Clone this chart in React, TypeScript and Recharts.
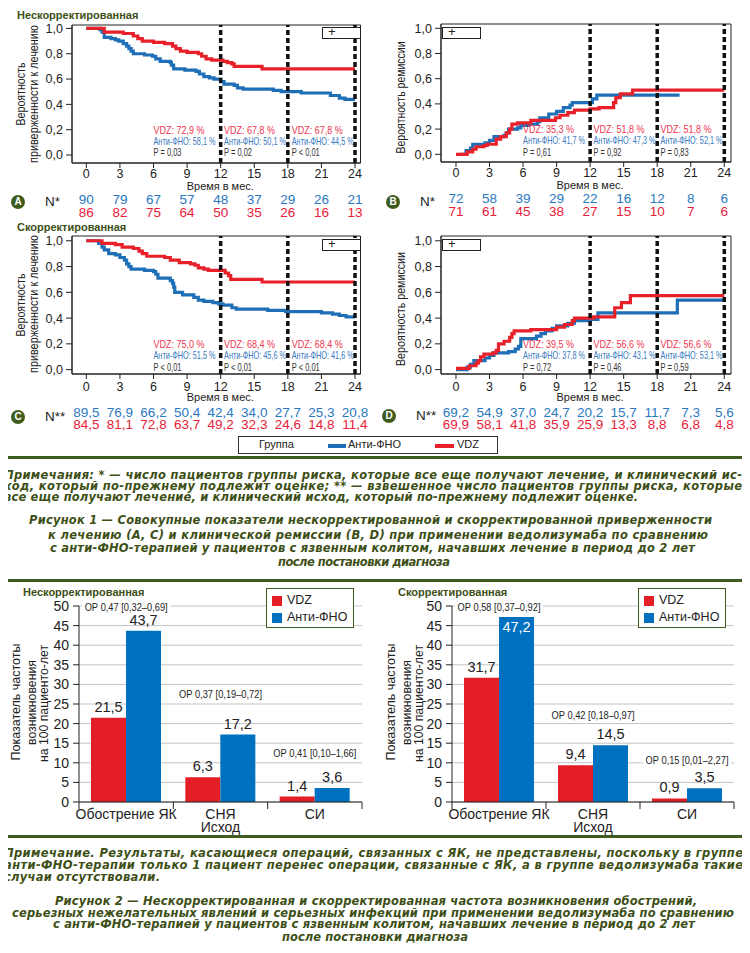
import React from 'react';
import {
  LineChart, Line, XAxis, YAxis, ReferenceLine, ReferenceDot, ReferenceArea,
  BarChart, Bar, CartesianGrid, LabelList,
} from 'recharts';

type Pt = [number, number];

// ---------- Figure 1: Kaplan–Meier curves ----------
const MONTHS = [0, 3, 6, 9, 12, 15, 18, 21, 24];
const PROB_TICKS = [0, 0.2, 0.4, 0.6, 0.8, 1];
const CUTS = [12, 18, 24];

// A: adherence, unadjusted
const A_ANTI: Pt[] = [
  [0, 1], [1.2, 0.99], [1.4, 0.97], [1.6, 0.93], [2.2, 0.92], [2.6, 0.91], [2.9, 0.9], [3.3, 0.88],
  [3.6, 0.86], [3.8, 0.84], [4.0, 0.82], [4.2, 0.8], [5.2, 0.79], [5.9, 0.78], [6.2, 0.76], [6.6, 0.74],
  [7.5, 0.73], [7.6, 0.71], [7.8, 0.68], [8.8, 0.67], [9.8, 0.66], [10.1, 0.64], [10.5, 0.62], [11.0, 0.61],
  [11.4, 0.6], [12.0, 0.58], [12.3, 0.56], [13.2, 0.55], [13.5, 0.53], [14.0, 0.52], [16.7, 0.51],
  [17.4, 0.5], [19.2, 0.49], [21.8, 0.47], [22.6, 0.45], [23.1, 0.44], [24, 0.44],
];
const A_VDZ: Pt[] = [
  [0, 1], [1.6, 0.97], [3.3, 0.96], [4.2, 0.94], [4.6, 0.92], [5.0, 0.9], [6.0, 0.89], [7.0, 0.88],
  [7.7, 0.86], [8.0, 0.84], [8.4, 0.82], [9.0, 0.81], [10.0, 0.8], [10.3, 0.78], [10.7, 0.76], [11.2, 0.75],
  [12.2, 0.74], [12.6, 0.73], [13.0, 0.72], [13.2, 0.7], [15.7, 0.68], [24, 0.68],
];
const A_N_ANTI = ['90', '79', '67', '57', '48', '37', '29', '26', '21'];
const A_N_VDZ = ['86', '82', '75', '64', '50', '35', '26', '16', '13'];
const A_PCT_VDZ = [72.9, 67.8, 67.8];
const A_PCT_ANTI = [58.1, 50.1, 44.5];
const A_P = ['P = 0,03', 'P = 0,02', 'P < 0,01'];

// B: remission, unadjusted
const B_ANTI: Pt[] = [
  [0.3, 0], [0.9, 0.03], [1.3, 0.05], [1.5, 0.08], [2.6, 0.09], [3.0, 0.11], [3.4, 0.14], [4.3, 0.15],
  [4.5, 0.17], [4.7, 0.2], [5.5, 0.21], [5.8, 0.23], [6.5, 0.24], [7.3, 0.26], [7.5, 0.29], [8.3, 0.32],
  [9.0, 0.34], [9.6, 0.37], [10.2, 0.39], [10.4, 0.41], [12.2, 0.44], [12.6, 0.47], [20.0, 0.47],
];
const B_VDZ: Pt[] = [
  [0, 0], [1.0, 0.02], [1.5, 0.04], [1.8, 0.06], [2.5, 0.07], [2.8, 0.08], [3.6, 0.12], [4.0, 0.14],
  [4.5, 0.17], [4.8, 0.2], [5.0, 0.24], [5.5, 0.25], [6.7, 0.27], [8.9, 0.29], [9.3, 0.31], [10.0, 0.33],
  [10.6, 0.35], [12.0, 0.36], [12.8, 0.37], [14.1, 0.41], [14.3, 0.45], [14.7, 0.48], [15.8, 0.51], [24, 0.51],
];
const B_N_ANTI = ['72', '58', '39', '29', '22', '16', '12', '8', '6'];
const B_N_VDZ = ['71', '61', '45', '38', '27', '15', '10', '7', '6'];
const B_PCT_VDZ = [35.3, 51.8, 51.8];
const B_PCT_ANTI = [41.7, 47.3, 52.1];
const B_P = ['P = 0,61', 'P = 0,92', 'P = 0,83'];

// C: adherence, adjusted
const C_ANTI: Pt[] = [
  [0, 1], [1.1, 0.98], [1.4, 0.95], [1.6, 0.93], [2.0, 0.9], [2.6, 0.89], [3.0, 0.87], [3.4, 0.85],
  [3.6, 0.82], [3.8, 0.8], [4.0, 0.78], [5.2, 0.77], [6.0, 0.76], [6.2, 0.74], [6.4, 0.71], [7.5, 0.69],
  [7.7, 0.67], [7.8, 0.64], [7.9, 0.6], [8.6, 0.58], [9.6, 0.56], [10.0, 0.54], [10.5, 0.53], [11.3, 0.52],
  [11.8, 0.51], [12.2, 0.5], [13.0, 0.48], [13.4, 0.47], [16.2, 0.46], [17.8, 0.45], [21.0, 0.44],
  [22.0, 0.43], [22.6, 0.42], [23.2, 0.41], [24, 0.41],
];
const C_VDZ: Pt[] = [
  [0, 1], [1.4, 0.98], [2.6, 0.97], [3.2, 0.95], [4.2, 0.94], [4.7, 0.92], [5.0, 0.9], [5.4, 0.88],
  [7.0, 0.87], [7.5, 0.85], [8.3, 0.83], [9.3, 0.82], [9.7, 0.81], [10.0, 0.79], [10.5, 0.78], [10.9, 0.77],
  [12.4, 0.75], [12.7, 0.73], [12.9, 0.7], [15.7, 0.68], [24, 0.68],
];
const C_N_ANTI = ['89,5', '76,9', '66,2', '50,4', '42,4', '34,0', '27,7', '25,3', '20,8'];
const C_N_VDZ = ['84,5', '81,1', '72,8', '63,7', '49,2', '32,3', '24,6', '14,8', '11,4'];
const C_PCT_VDZ = [75.0, 68.4, 68.4];
const C_PCT_ANTI = [51.5, 45.6, 41.6];
const C_P = ['P < 0,01', 'P < 0,01', 'P < 0,01'];

// D: remission, adjusted
const D_ANTI: Pt[] = [
  [0, 0], [1.0, 0.02], [1.3, 0.04], [1.6, 0.07], [2.6, 0.09], [3.0, 0.11], [3.4, 0.13], [4.7, 0.14],
  [5.3, 0.16], [5.6, 0.18], [5.8, 0.24], [7.2, 0.26], [7.6, 0.28], [8.0, 0.3], [8.6, 0.32], [9.0, 0.34],
  [10.0, 0.36], [10.6, 0.38], [12.0, 0.39], [12.7, 0.44], [19.8, 0.54], [24, 0.54],
];
const D_VDZ: Pt[] = [
  [0, 0.01], [1.2, 0.03], [1.8, 0.05], [2.0, 0.07], [2.2, 0.1], [2.5, 0.12], [3.3, 0.13], [3.6, 0.15],
  [3.8, 0.2], [4.3, 0.22], [4.8, 0.25], [5.0, 0.28], [5.2, 0.3], [6.7, 0.31], [9.0, 0.33], [9.7, 0.35],
  [10.4, 0.38], [10.6, 0.4], [12.3, 0.41], [14.2, 0.48], [14.8, 0.52], [15.6, 0.575], [24, 0.575],
];
const D_N_ANTI = ['69,2', '54,9', '37,0', '24,7', '20,2', '15,7', '11,7', '7,3', '5,6'];
const D_N_VDZ = ['69,9', '58,1', '41,8', '35,9', '25,9', '13,3', '8,8', '6,8', '4,8'];
const D_PCT_VDZ = [39.5, 56.6, 56.6];
const D_PCT_ANTI = [37.8, 43.1, 53.1];
const D_P = ['P = 0,72', 'P = 0,46', 'P = 0,59'];

// ---------- Figure 2: incidence rates ----------
const CATS = ['Обострение ЯК', 'СНЯ', 'СИ'];
const RATE_TICKS = [0, 5, 10, 15, 20, 25, 30, 35, 40, 45, 50];
const UNADJ_VDZ = [21.5, 6.3, 1.4];
const UNADJ_ANTI = [43.7, 17.2, 3.6];
const UNADJ_OR = ['ОР 0,47 [0,32–0,69]', 'ОР 0,37 [0,19–0,72]', 'ОР 0,41 [0,10–1,66]'];
const ADJ_VDZ = [31.7, 9.4, 0.9];
const ADJ_ANTI = [47.2, 14.5, 3.5];
const ADJ_OR = ['ОР 0,58 [0,37–0,92]', 'ОР 0,42 [0,18–0,97]', 'ОР 0,15 [0,01–2,27]'];

// ---------- styling ----------
const SANS = '"Liberation Sans", Arial, sans-serif';
const NOTE = '"DejaVu Sans", sans-serif';
const FRAME = '#3e5c1e';
const OLIVE = '#3d4f16';
const RED = '#e8202a';
const BLUE = '#1f6fb8';
const BAR_RED = '#e31e26';
const BAR_BLUE = '#0070c0';
const INK = '#222';

const comma = (v: number, d = 1) => v.toFixed(d).replace('.', ',');

function Txt({ x, cy, fs, children, style }: any) {
  return (
    <div style={{ position: 'absolute', left: x, top: cy - 0.59 * fs, fontSize: fs, lineHeight: 1.2, whiteSpace: 'nowrap', ...style }}>
      {children}
    </div>
  );
}

// rotated axis title: column centre x, vertical centre cy, exact length len
function RotText({ x, cy, len, text, fs = 13 }: { x: number; cy: number; len: number; text: string; fs?: number }) {
  return (
    <text x={x} y={cy} dy={fs * 0.36} transform={`rotate(-90 ${x} ${cy})`} textAnchor="middle" fontSize={fs}
      fontFamily={SANS} fill={INK} textLength={len} lengthAdjust="spacingAndGlyphs">{text}</text>
  );
}

const annoLabel = (text: string, color: string, len: number) => (props: any) => {
  const vb = props.viewBox || {};
  const x = (vb.x ?? 0) + (vb.width ?? 0) / 2;
  const y = (vb.y ?? 0) + (vb.height ?? 0) / 2;
  return (
    <text x={x} y={y} dy={4} fill={color} fontSize={11.5} fontFamily={SANS}
      textLength={len} lengthAdjust="spacingAndGlyphs">{text}</text>
  );
};

const kmTick = (blue: string[], red: string[], dys: number[]) => (p: any) => {
  const i = MONTHS.indexOf(p.payload.value);
  return (
    <g>
      <text x={p.x} y={p.y + dys[0]} textAnchor="middle" fontSize={12.5} fill={INK} fontFamily={SANS}>{p.payload.value}</text>
      <text x={p.x} y={p.y + dys[1]} textAnchor="middle" fontSize={13.5} fill="#2a78c2" fontFamily={SANS}>{blue[i]}</text>
      <text x={p.x} y={p.y + dys[2]} textAnchor="middle" fontSize={13.5} fill="#e9203a" fontFamily={SANS}>{red[i]}</text>
    </g>
  );
};

const timeLabel = (props: any) => {
  const vb = props.viewBox || {};
  const cx = (vb.x ?? 0) + (vb.width ?? 0) / 2 + 4;
  const base = (vb.y ?? 0) + (vb.height ?? 0) - 3.5;
  return (
    <text x={cx} y={base} textAnchor="middle" fontSize={11.5} fill={INK} fontFamily={SANS}
      textLength={67} lengthAdjust="spacingAndGlyphs">Время в мес.</text>
  );
};

interface KmProps {
  left: number; top: number; mTop: number; mRight: number; yW: number;
  xDomain: [number, number]; yDomain: [number, number];
  anti: Pt[]; vdz: Pt[]; nAnti: string[]; nVdz: string[];
  annoX: number[]; pctVdz: number[]; pctAnti: number[]; pText: string[];
  dys: number[];
}

function KmPanel(p: KmProps) {
  const rows = (pts: Pt[]) => pts.map(([t, s]) => ({ t, s }));
  const H = 222;
  return (
    <div style={{ position: 'absolute', left: p.left, top: p.top }}>
      <LineChart width={375} height={H} margin={{ top: p.mTop, right: p.mRight, left: 0, bottom: H - 163 - 30 - p.mTop + 25 }}>
        <XAxis dataKey="t" type="number" domain={p.xDomain} ticks={MONTHS} interval={0} allowDataOverflow
          height={30} tickSize={5} tickMargin={2} stroke={INK} tick={kmTick(p.nAnti, p.nVdz, p.dys)}
          label={timeLabel} />
        <YAxis type="number" domain={p.yDomain} ticks={PROB_TICKS} allowDataOverflow width={p.yW}
          tickSize={6} tickMargin={3} stroke={INK} tick={{ fontSize: 12.5, fill: INK, fontFamily: SANS }}
          tickFormatter={(v: number) => comma(v)} />
        <ReferenceArea x1={p.xDomain[0]} x2={p.xDomain[1]} y1={p.yDomain[0]} y2={p.yDomain[1]}
          fill="none" stroke={INK} strokeWidth={1} ifOverflow="visible" />
        <Line data={rows(p.anti)} dataKey="s" type="stepAfter" stroke={BLUE} strokeWidth={3.2} dot={false} isAnimationActive={false} />
        <Line data={rows(p.vdz)} dataKey="s" type="stepAfter" stroke={RED} strokeWidth={3.2} dot={false} isAnimationActive={false} />
        {CUTS.map((c) => (
          <ReferenceLine key={c} x={c} stroke="#111" strokeWidth={3.5} strokeDasharray="5 3" />
        ))}
        {p.annoX.map((x, i) => (
          <React.Fragment key={x}>
            <ReferenceDot x={x} y={0.2} r={0.01} fill="none" stroke="none"
              label={annoLabel(`VDZ: ${comma(p.pctVdz[i])} %`, '#ef3550', 51)} />
            <ReferenceDot x={x} y={0.11} r={0.01} fill="none" stroke="none"
              label={annoLabel(`Анти-ФНО: ${comma(p.pctAnti[i])} %`, '#3a78c0', 62)} />
            <ReferenceDot x={x} y={0.02} r={0.01} fill="none" stroke="none"
              label={annoLabel(p.pText[i], '#333', 28)} />
          </React.Fragment>
        ))}
      </LineChart>
    </div>
  );
}

function PlusBox({ x, y }: { x: number; y: number }) {
  return (
    <div style={{ position: 'absolute', left: x, top: y, width: 37, height: 10, border: '1px solid #222', background: '#fff' }}>
      <div style={{ position: 'absolute', left: 5, top: -4, fontSize: 13, fontFamily: SANS, color: INK }}>+</div>
    </div>
  );
}

function Badge({ x, cy, letter, n }: { x: number; cy: number; letter: string; n: string }) {
  return (
    <>
      <div style={{
        position: 'absolute', left: x - 7, top: cy - 7, width: 14, height: 14, borderRadius: 7, background: FRAME,
        color: '#fff', fontSize: 10, fontWeight: 'bold', fontFamily: SANS, textAlign: 'center', lineHeight: '14px',
      }}>{letter}</div>
      <Txt x={x + 27} cy={cy} fs={13.5} style={{ fontFamily: SANS, color: INK }}>{n}</Txt>
    </>
  );
}

// ---------- bar charts ----------
const barTick = (band: number, n: number) => (p: any) => {
  const top = p.y - 7;
  const lx = p.x - band / 2;
  const rx = p.x + band / 2;
  return (
    <g>
      <line x1={lx} x2={lx} y1={top} y2={top + 7} stroke={INK} />
      {p.index === n - 1 && <line x1={rx} x2={rx} y1={top} y2={top + 7} stroke={INK} />}
      <text x={p.x} y={p.y + 10} textAnchor="middle" fontSize={14} fill={INK} fontFamily={SANS}>{p.payload.value}</text>
    </g>
  );
};

const valueLabel = (inside: number[]) => (p: any) => {
  const vb = p.viewBox && p.viewBox.width !== undefined ? p.viewBox : p;
  const isIn = inside.includes(p.index);
  const cx = vb.x + vb.width / 2;
  return (
    <text x={cx} y={isIn ? vb.y + 15 : vb.y - 6} textAnchor="middle" fontSize={14.5}
      fill={isIn ? '#fff' : INK} fontFamily={SANS}>{comma(Number(p.value))}</text>
  );
};

const orLabel = (text: string) => (props: any) => {
  const vb = props.viewBox || {};
  const cx = (vb.x ?? 0) + (vb.width ?? 0) / 2;
  const cy = (vb.y ?? 0) + (vb.height ?? 0) / 2;
  return (
    <g>
      <rect x={cx - 44} y={cy - 6} width={88} height={12} fill="#fff" />
      <text x={cx} y={cy} dy={3.6} textAnchor="middle" fontSize={10} fill={INK} fontFamily={SANS}
        textLength={83} lengthAdjust="spacingAndGlyphs">{text}</text>
    </g>
  );
};

function BarPanel({ left, vdz, anti, orText, orY, yW, mRight, inside }: any) {
  const rows = CATS.map((c, i) => ({ c, vdz: vdz[i], anti: anti[i] }));
  const band = (375 - yW - mRight) / CATS.length;
  return (
    <div style={{ position: 'absolute', left, top: 590 }}>
      <BarChart width={375} height={245} data={rows} margin={{ top: 16, right: mRight, left: 0, bottom: 3 }}
        barGap={0} barSize={35}>
        <CartesianGrid vertical={false} stroke="#c3c3c3" />
        <XAxis dataKey="c" tickLine={false} tickSize={7} tickMargin={0} height={30} stroke={INK}
          interval={0} tick={barTick(band, CATS.length)}
          label={{ value: 'Исход', position: 'insideBottom', offset: 0, fontSize: 14, fill: INK, fontFamily: SANS }} />
        <YAxis domain={[0, 50]} ticks={RATE_TICKS} interval={0} width={yW} tickSize={6} tickMargin={4}
          stroke={INK} tick={{ fontSize: 14, fill: INK, fontFamily: SANS }} allowDataOverflow />
        <Bar dataKey="vdz" fill={BAR_RED} isAnimationActive={false}>
          <LabelList dataKey="vdz" content={valueLabel([])} />
        </Bar>
        <Bar dataKey="anti" fill={BAR_BLUE} isAnimationActive={false}>
          <LabelList dataKey="anti" content={valueLabel(inside)} />
        </Bar>
        {CATS.map((c, i) => (
          <ReferenceDot key={c} x={c} y={orY[i]} r={0.01} fill="none" stroke="none" label={orLabel(orText[i])} />
        ))}
      </BarChart>
    </div>
  );
}

function BarLegend({ x }: { x: number }) {
  return (
    <div style={{ position: 'absolute', left: x, top: 588, width: 86, height: 38, border: `1.5px solid ${FRAME}`, background: '#fff' }}>
      <div style={{ position: 'absolute', left: 5, top: 7, width: 10, height: 10, background: BAR_RED }} />
      <div style={{ position: 'absolute', left: 20, top: 4, fontSize: 12.5, fontFamily: SANS, color: INK }}>VDZ</div>
      <div style={{ position: 'absolute', left: 5, top: 24, width: 10, height: 10, background: BAR_BLUE }} />
      <div style={{ position: 'absolute', left: 20, top: 21, fontSize: 12.5, fontFamily: SANS, color: INK }}>Анти-ФНО</div>
    </div>
  );
}

// ---------- notes and captions ----------
const NOTE1 = [
  'Примечания: * — число пациентов группы риска, которые все еще получают лечение, и клинический ис-',
  'ход, который по-прежнему подлежит оценке; ** — взвешенное число пациентов группы риска, которые',
  'все еще получают лечение, и клинический исход, который по-прежнему подлежит оценке.',
];
const CAP1 = [
  'Рисунок 1 — Совокупные показатели нескорректированной и скорректированной приверженности',
  'к лечению (А, С) и клинической ремиссии (В, D) при применении ведолизумаба по сравнению',
  'с анти-ФНО-терапией у пациентов с язвенным колитом, начавших лечение в период до 2 лет',
  'после постановки диагноза',
];
const NOTE2 = [
  'Примечание. Результаты, касающиеся операций, связанных с ЯК, не представлены, поскольку в группе',
  'анти-ФНО-терапии только 1 пациент перенес операции, связанные с ЯК, а в группе ведолизумаба такие',
  'случаи отсутствовали.',
];
const CAP2 = [
  'Рисунок 2 — Нескорректированная и скорректированная частота возникновения обострений,',
  'серьезных нежелательных явлений и серьезных инфекций при применении ведолизумаба по сравнению',
  'с анти-ФНО-терапией у пациентов с язвенным колитом, начавших лечение в период до 2 лет',
  'после постановки диагноза',
];

// [x1, x2, cap centre y] of every line as measured on the page
const NOTE1_POS = [[4, 742, 474.8], [4, 742, 485.8], [4, 638, 496.8]];
const CAP1_POS = [[29, 712, 520], [48, 708, 535], [50, 695, 548.3], [278, 450, 562.3]];
const NOTE2_POS = [[4, 743, 853.2], [4, 743, 864.8], [4, 160, 876.7]];
const CAP2_POS = [[55, 697, 900.8], [12, 734, 912.5], [53, 695, 924.3], [282, 468, 936.7]];

function NoteLines({ lines, pos }: { lines: string[]; pos: number[][] }) {
  const fs = 11.5;
  return (
    <>
      {lines.map((t, i) => {
        const [x1, x2, cy] = pos[i];
        return (
          <text key={t} x={x1} y={cy + fs * 0.365} fontSize={fs} fontFamily={NOTE} fontWeight="bold"
            fontStyle="italic" fill={OLIVE} textLength={x2 - x1} lengthAdjust="spacing">{t}</text>
        );
      })}
    </>
  );
}

export default function App() {
  const title = { fontFamily: SANS, fontWeight: 'bold', color: OLIVE };
  return (
    <div style={{ position: 'relative', width: 750, height: 953, margin: -8, background: '#fff', overflow: 'hidden', fontFamily: SANS }}>
      {/* figure 1 frame */}
      <div style={{ position: 'absolute', left: 4, top: 2, width: 742 - 7, height: 458 - 7, border: `3.5px solid ${FRAME}` }} />
      <Txt x={17} cy={15} fs={11} style={title}>Нескорректированная</Txt>
      <Txt x={17} cy={227} fs={11} style={title}>Скорректированная</Txt>

      <KmPanel left={0} top={0} mTop={25} mRight={14.5} yW={72} xDomain={[-1.28, 24.49]} yDomain={[-0.063, 1.027]}
        anti={A_ANTI} vdz={A_VDZ} nAnti={A_N_ANTI} nVdz={A_N_VDZ} annoX={[6.0, 12.3, 18.35]}
        pctVdz={A_PCT_VDZ} pctAnti={A_PCT_ANTI} pText={A_P} dys={[8, 33.5, 46.5]} />
      <KmPanel left={375} top={0} mTop={24} mRight={19} yW={66} xDomain={[-1.34, 24.6]} yDomain={[-0.061, 1.034]}
        anti={B_ANTI} vdz={B_VDZ} nAnti={B_N_ANTI} nVdz={B_N_VDZ} annoX={[6.0, 12.3, 18.3]}
        pctVdz={B_PCT_VDZ} pctAnti={B_PCT_ANTI} pText={B_P} dys={[8, 33.5, 46.5]} />
      <KmPanel left={0} top={210} mTop={26} mRight={14.5} yW={72} xDomain={[-1.28, 24.49]} yDomain={[-0.034, 1.037]}
        anti={C_ANTI} vdz={C_VDZ} nAnti={C_N_ANTI} nVdz={C_N_VDZ} annoX={[6.0, 12.3, 18.35]}
        pctVdz={C_PCT_VDZ} pctAnti={C_PCT_ANTI} pText={C_P} dys={[9.5, 35.5, 48]} />
      <KmPanel left={375} top={210} mTop={26} mRight={19} yW={66} xDomain={[-1.34, 24.6]} yDomain={[-0.034, 1.037]}
        anti={D_ANTI} vdz={D_VDZ} nAnti={D_N_ANTI} nVdz={D_N_VDZ} annoX={[6.0, 12.3, 18.3]}
        pctVdz={D_PCT_VDZ} pctAnti={D_PCT_ANTI} pText={D_P} dys={[9.5, 35.5, 48]} />

      <PlusBox x={322} y={27} />
      <PlusBox x={442} y={27} />
      <PlusBox x={322} y={239} />
      <PlusBox x={442} y={239} />

      <Badge x={18} cy={202} letter="A" n="N*" />
      <Badge x={393} cy={202} letter="B" n="N*" />
      <Badge x={18} cy={417} letter="C" n="N**" />
      <Badge x={389} cy={416} letter="D" n="N**" />

      {/* figure 1 legend */}
      <div style={{ position: 'absolute', left: 238, top: 436, width: 258, height: 16, border: '1px solid #333', background: '#fff' }}>
        <div style={{ position: 'absolute', left: 20, top: 1, fontSize: 11, fontFamily: SANS, color: INK }}>Группа</div>
        <div style={{ position: 'absolute', left: 89, top: 7, width: 18, height: 3.5, background: BLUE }} />
        <div style={{ position: 'absolute', left: 109, top: 1, fontSize: 11, fontFamily: SANS, color: INK }}>Анти-ФНО</div>
        <div style={{ position: 'absolute', left: 196, top: 7, width: 19, height: 3.5, background: RED }} />
        <div style={{ position: 'absolute', left: 218, top: 1, fontSize: 11, fontFamily: SANS, color: INK }}>VDZ</div>
      </div>

      {/* figure 2 frame */}
      <div style={{ position: 'absolute', left: 4, top: 579, width: 742 - 7, height: 260 - 7, border: `3.5px solid ${FRAME}` }} />
      <Txt x={23} cy={592} fs={11} style={title}>Нескорректированная</Txt>
      <Txt x={398} cy={592} fs={11} style={title}>Скорректированная</Txt>

      <BarPanel left={0} vdz={UNADJ_VDZ} anti={UNADJ_ANTI} orText={UNADJ_OR} orY={[49.7, 27.5, 12.5]}
        yW={79} mRight={13} inside={[]} />
      <BarPanel left={375} vdz={ADJ_VDZ} anti={ADJ_ANTI} orText={ADJ_OR} orY={[49.7, 22.2, 10.5]}
        yW={77} mRight={16} inside={[0]} />
      <BarLegend x={266} />
      <BarLegend x={638} />

      {/* axis titles, notes, captions */}
      <svg width={750} height={953} style={{ position: 'absolute', left: 0, top: 0, pointerEvents: 'none' }}>
        <RotText x={20} cy={94} len={63} text="Вероятность" />
        <RotText x={33.3} cy={94} len={138} text="приверженности к лечению" />
        <RotText x={400} cy={97.5} len={112} text="Вероятность ремиссии" />
        <RotText x={20} cy={305} len={63} text="Вероятность" />
        <RotText x={33.3} cy={304} len={138} text="приверженности к лечению" />
        <RotText x={400} cy={309} len={114} text="Вероятность ремиссии" />

        <RotText x={15} cy={702} len={117} text="Показатель частоты" />
        <RotText x={31.7} cy={702.5} len={85} text="возникновения" />
        <RotText x={43.3} cy={703.5} len={117} text="на 100 пациенто-лет" />
        <RotText x={390} cy={702} len={117} text="Показатель частоты" />
        <RotText x={406.7} cy={702.5} len={85} text="возникновения" />
        <RotText x={418} cy={703.5} len={117} text="на 100 пациенто-лет" />

        <NoteLines lines={NOTE1} pos={NOTE1_POS} />
        <NoteLines lines={CAP1} pos={CAP1_POS} />
        <NoteLines lines={NOTE2} pos={NOTE2_POS} />
        <NoteLines lines={CAP2} pos={CAP2_POS} />
      </svg>
    </div>
  );
}
